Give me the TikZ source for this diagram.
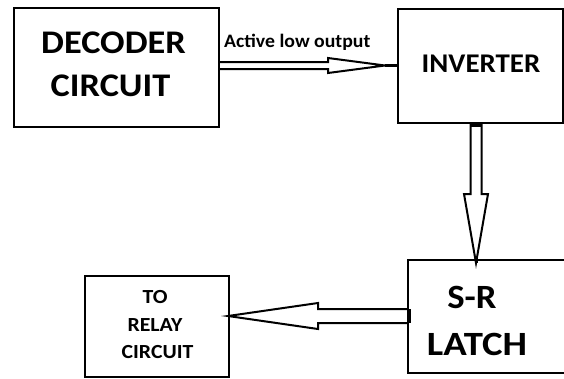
\documentclass[tikz,border=0pt]{standalone}
\usepackage{graphicx}
\usepackage{fontspec}
\setmainfont{Carlito}
\newcommand\widen[2]{\scalebox{#1}[1]{#2}}
\begin{document}
\begin{tikzpicture}[x=1pt,y=-1pt,
  box/.style={draw=black, line width=2.6pt, rectangle, inner sep=0pt, outer sep=0pt},
  lbl/.style={anchor=base, inner sep=0pt, font=\bfseries},
  arr/.style={draw=black, line width=2pt, line join=miter},
  tipline/.style={draw=black, line width=3pt}]
\useasboundingbox (0,0) rectangle (564,378);
\clip (0,0) rectangle (564,378);
% boxes
\node[box, minimum width=205pt, minimum height=119pt] (dec) at (116.5,67.5) {};
\node[box, minimum width=165pt, minimum height=114pt] (inv) at (480.5,66) {};
\node[box, minimum width=164pt, minimum height=113pt] (lat) at (490,316.5) {};
\node[box, minimum width=144pt, minimum height=101pt] (rel) at (157,326.5) {};
% texts
\node[lbl, font=\fontsize{33}{33}\selectfont\bfseries] (t1) at (113.5,53) {\widen{1.1}{DECODER}};
\node[lbl, font=\fontsize{33}{33}\selectfont\bfseries] (t2) at (110.5,96) {\widen{1.1}{CIRCUIT}};
\node[lbl, font=\fontsize{27}{27}\selectfont\bfseries] (t3) at (481,72) {\widen{1.07}{INVERTER}};
\node[lbl, font=\fontsize{34}{34}\selectfont\bfseries] (t4) at (472,308) {\widen{1.08}{S-R}};
\node[lbl, font=\fontsize{34}{34}\selectfont\bfseries] (t5) at (477,355) {\widen{1.14}{LATCH}};
\node[lbl, font=\fontsize{20}{20}\selectfont\bfseries] (t6) at (155,303) {\widen{1.09}{TO}};
\node[lbl, font=\fontsize{20}{20}\selectfont\bfseries] (t7) at (155,331) {\widen{1.09}{RELAY}};
\node[lbl, font=\fontsize{20}{20}\selectfont\bfseries] (t8) at (157.5,358) {\widen{1.09}{CIRCUIT}};
\node[lbl, anchor=base west, font=\fontsize{19}{19}\selectfont\bfseries] (lab) at (224,47) {\widen{1.04}{Active low output}};
% tip coordinates
\coordinate (tipA) at (385,65.5);
\coordinate (tipB) at (476,263);
\coordinate (tipC) at (228,316);
% arrow decoder -> inverter
\draw[arr] (dec.east |- 0,62) -- (328,62) -- (328,58) -- (tipA) -- (328,73) -- (328,69) -- (dec.east |- 0,69);
\draw[tipline] (tipA) -- (inv.west |- tipA);
% arrow inverter -> latch
\draw[arr] (470.5,0 |- inv.south) -- (470.5,194) -- (464,194) -- (tipB) -- (488,194) -- (481.5,194) -- (481.5,0 |- inv.south);
\fill[black] (470.5,123) rectangle (481.5,127);
\draw[tipline] (tipB) -- (lat.north -| tipB);
% arrow latch -> relay
\draw[arr] (lat.west |- 0,309) -- (318,309) -- (318,303) -- (tipC) -- (318,329) -- (318,323) -- (lat.west |- 0,323);
\fill[black] (lat.west |- 0,309) ++(-1.3,0) rectangle ++(4,14);
\end{tikzpicture}
\end{document}
